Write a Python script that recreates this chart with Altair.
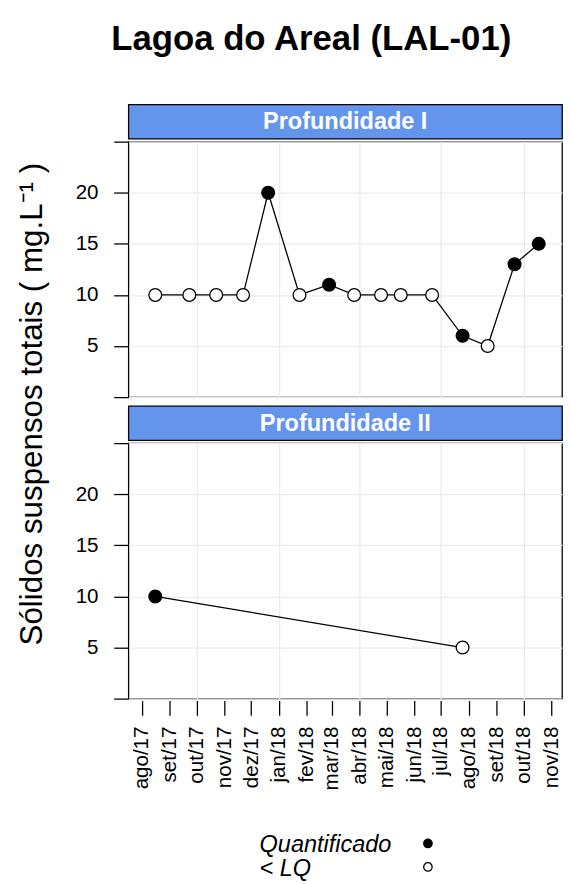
import altair as alt
import pandas as pd

TITLE = "Lagoa do Areal (LAL-01)"
Y_TITLE = "Sólidos suspensos totais ( mg.L⁻¹ )"
PANELS = ["Profundidade I", "Profundidade II"]
STATUS_LABELS = ["Quantificado", "< LQ"]

# Profundidade I
DATES_I = ["2017-08-16", "2017-09-23", "2017-10-23", "2017-11-22", "2017-12-20",
           "2018-01-24", "2018-02-26", "2018-03-26", "2018-04-25", "2018-05-17",
           "2018-06-21", "2018-07-25", "2018-08-22", "2018-09-21", "2018-10-18"]
VALUES_I = [10, 10, 10, 10, 20, 10, 11, 10, 10, 10, 10, 6, 5, 13, 15]
STATUS_I = ["< LQ", "< LQ", "< LQ", "< LQ", "Quantificado", "< LQ", "Quantificado",
            "< LQ", "< LQ", "< LQ", "< LQ", "Quantificado", "< LQ", "Quantificado",
            "Quantificado"]

# Profundidade II
DATES_II = ["2017-08-16", "2018-07-25"]
VALUES_II = [10, 5]
STATUS_II = ["Quantificado", "< LQ"]

TICK_DATES = ["2017-08-01", "2017-09-01", "2017-10-01", "2017-11-01", "2017-12-01",
              "2018-01-01", "2018-02-01", "2018-03-01", "2018-04-01", "2018-05-01",
              "2018-06-01", "2018-07-01", "2018-08-01", "2018-09-01", "2018-10-01",
              "2018-11-01"]
TICK_LABELS = ["ago/17", "set/17", "out/17", "nov/17", "dez/17", "jan/18", "fev/18",
               "mar/18", "abr/18", "mai/18", "jun/18", "jul/18", "ago/18", "set/18",
               "out/18", "nov/18"]
X_DOMAIN = ["2017-07-17", "2018-11-13"]
Y_TICKS = [0, 5, 10, 15, 20, 25]
Y_DOMAIN = [0, 25]

FONT = "Liberation Sans"
W = 443
PANEL_H = 261
STRIP_H = 35
STRIP_FILL = "#6495ED"
GRID = "#EBEBEB"


def dt(s):
    y, m, d = (int(v) for v in s.split("-"))
    return alt.DateTime(year=y, month=m, date=d, utc=True)


tick_values = [dt(s) for s in TICK_DATES]
label_array = "[" + ",".join("'%s'" % t for t in TICK_LABELS) + "]"
label_expr = label_array + "[(utcyear(datum.value)-2017)*12 + utcmonth(datum.value) - 7]"
grid_cond = {"condition": {"test": "utcmonth(datum.value) % 3 == 0", "value": 1}, "value": 0}

x_scale = alt.Scale(type="utc", domain=[dt(s) for s in X_DOMAIN], nice=False)
y_scale = alt.Scale(domain=Y_DOMAIN, nice=False, zero=False)
fill_scale = alt.Scale(domain=STATUS_LABELS, range=["black", "white"])

y_axis = alt.Axis(values=Y_TICKS,
                  labelExpr="datum.value == 0 || datum.value == 25 ? '' : datum.label",
                  title=None, tickSize=15, tickWidth=1.3, tickColor="black",
                  labelFontSize=21, labelPadding=16, labelColor="black", labelFont=FONT,
                  domain=False, gridColor=GRID, gridWidth=1.3)


def x_axis(show):
    if show:
        return alt.Axis(values=tick_values, labelExpr=label_expr, labelAngle=270,
                        labelFontSize=21, labelFont=FONT, labelColor="black",
                        labelPadding=11, tickSize=15, tickWidth=1.3, tickColor="black",
                        offset=2, labelOverlap=False, labelFlush=False, domain=False,
                        title=None, gridColor=GRID, gridWidth=1.3, gridOpacity=grid_cond)
    return alt.Axis(values=tick_values, labels=False, ticks=False, domain=False,
                    title=None, gridColor=GRID, gridWidth=1.3, gridOpacity=grid_cond)


def panel(dates, values, status, show_x):
    df = pd.DataFrame({"date": dates, "value": values, "status": status})
    base = alt.Chart(df).encode(
        x=alt.X("date:T", scale=x_scale, axis=x_axis(show_x)),
        y=alt.Y("value:Q", scale=y_scale, axis=y_axis),
    )
    line = base.mark_line(color="black", strokeWidth=1.3)
    pts = base.mark_point(shape="circle", filled=True, size=170, stroke="black",
                          strokeWidth=1.3, opacity=1).encode(
        fill=alt.Fill("status:N", scale=fill_scale, legend=None))
    return (line + pts).properties(width=W, height=PANEL_H)


def strip(label):
    df = pd.DataFrame({"panel": [label]})
    return alt.Chart(df).mark_text(color="white", fontWeight="bold", fontSize=24,
                                   font=FONT).encode(
        text="panel:N", x=alt.value(W / 2), y=alt.value(STRIP_H / 2 + 1)
    ).properties(width=W, height=STRIP_H,
                 view=alt.ViewBackground(fill=STRIP_FILL, stroke="black", strokeWidth=1.3))


p1 = panel(DATES_I, VALUES_I, STATUS_I, False)
p2 = panel(DATES_II, VALUES_II, STATUS_II, True)

body = alt.vconcat(
    alt.vconcat(strip(PANELS[0]), p1, spacing=0),
    alt.vconcat(strip(PANELS[1]), p2, spacing=0),
    spacing=6,
).properties(title=alt.TitleParams(Y_TITLE, orient="left", anchor="middle", fontSize=32,
                                   fontWeight="normal", font=FONT, color="black",
                                   offset=26, dx=44))

leg_df = pd.DataFrame({"status": STATUS_LABELS})
ly = alt.Y("status:N", sort=STATUS_LABELS, axis=None,
           scale=alt.Scale(type="point", padding=0.25))
ltext = alt.Chart(leg_df).mark_text(align="left", fontStyle="italic", fontSize=24,
                                    font=FONT, color="black", dy=2).encode(
    y=ly, text="status:N", x=alt.value(134))
lpts = alt.Chart(leg_df).mark_point(shape="circle", filled=True, size=75, stroke="black",
                                    strokeWidth=1.3, opacity=1).encode(
    y=ly, x=alt.value(306), fill=alt.Fill("status:N", scale=fill_scale, legend=None))
legend = (ltext + lpts).properties(width=W, height=36,
                                   view=alt.ViewBackground(stroke="transparent"))

chart = alt.vconcat(body, legend, spacing=42).properties(
    title=alt.TitleParams(TITLE, fontSize=35.5, fontWeight="bold", font=FONT,
                          color="black", anchor="middle", offset=47, dx=22),
    padding={"left": 8, "top": 5, "right": 0, "bottom": 0},
).configure_view(stroke="black", strokeWidth=1.3)

chart.save("out.html", embed_options={"renderer": "svg", "actions": False})
